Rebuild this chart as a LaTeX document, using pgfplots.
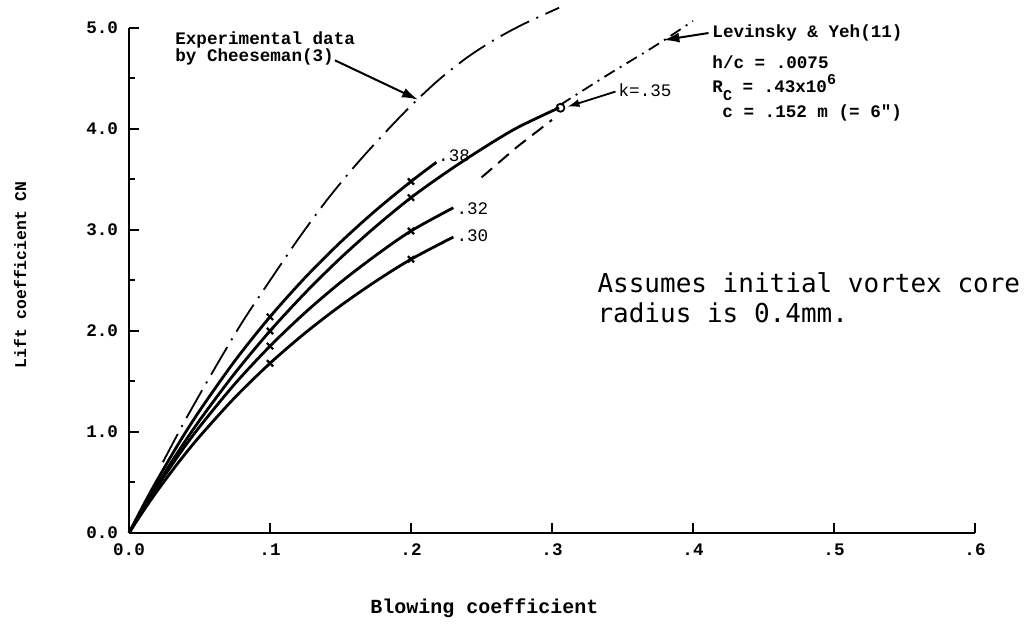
\documentclass[border=0pt]{standalone}
\usepackage{fontspec}
\setmainfont{Liberation Mono}
\newfontfamily\thinmono{DejaVu Sans Mono}
\usepackage{pgfplots}
\pgfplotsset{compat=1.18}
\usetikzlibrary{arrows.meta}

% curves: blowing coefficient vs lift coefficient
\pgfplotstableread{
x y
0.024 0.70
0.04 1.12
0.06 1.61
0.08 2.08
0.10 2.50
0.12 2.91
0.14 3.29
0.16 3.63
0.18 3.94
0.20 4.23
0.22 4.49
0.24 4.71
0.26 4.89
0.28 5.04
0.305 5.20
}\cheeseman

\newcommand\annfont{\fontsize{8.8}{10}\selectfont\bfseries}
\newcommand\lblfont{\fontsize{8.8}{10}\selectfont}

\begin{document}
\begin{tikzpicture}
\begin{axis}[
 scale only axis, width=423pt, height=252.5pt,
 xmin=0, xmax=0.6, ymin=0, ymax=5,
 axis lines*=left, axis line style={line width=1.3pt},
 tick align=inside, major tick length=5pt, minor tick length=3pt,
 tick style={line width=1pt,black},
 xtick={0,0.1,0.2,0.3,0.4,0.5,0.6},
 xticklabels={0.0,.1,.2,.3,.4,.5,.6},
 ytick={0,1,2,3,4,5},
 yticklabels={0.0,1.0,2.0,3.0,4.0,5.0},
 minor ytick={0.5,1.5,2.5,3.5,4.5},
 tick label style={font=\annfont},
 xticklabel style={yshift=-2pt},
 yticklabel style={xshift=-2pt},
 xlabel={Blowing coefficient},
 xlabel style={at={(rel axis cs:0.42,-0.1485)},anchor=center,font=\fontsize{10}{12}\selectfont\bfseries},
 ylabel={Lift coefficient CN},
 ylabel style={at={(rel axis cs:-0.1288,0.511)},anchor=center,font=\fontsize{8.2}{10}\selectfont\bfseries},
 clip=false,
]
% experimental data (Cheeseman)
\addplot[black, line width=0.9pt, smooth, dash pattern=on 16pt off 4pt on 1pt off 4pt] table {\cheeseman};

% computed curves, k = .38 .35 .32 .30
\addplot[black, line width=1.4pt, smooth] coordinates
 {(0,0) (0.01,0.270) (0.02,0.524) (0.035,0.881) (0.05,1.209) (0.075,1.703) (0.1,2.14)
  (0.125,2.530) (0.15,2.879) (0.175,3.194) (0.2,3.48) (0.218,3.67)};
\addplot[black, line width=1.4pt, smooth] coordinates
 {(0,0) (0.01,0.245) (0.02,0.478) (0.035,0.807) (0.05,1.114) (0.075,1.581) (0.1,2.0)
  (0.125,2.378) (0.15,2.722) (0.175,3.034) (0.2,3.32) (0.225,3.57) (0.25,3.80) (0.275,4.01) (0.305,4.21)};
\addplot[black, line width=1.4pt, smooth] coordinates
 {(0,0) (0.01,0.235) (0.02,0.457) (0.035,0.766) (0.05,1.050) (0.075,1.475) (0.1,1.85)
  (0.125,2.183) (0.15,2.481) (0.175,2.748) (0.2,2.99) (0.23,3.22)};
\addplot[black, line width=1.4pt, smooth] coordinates
 {(0,0) (0.01,0.214) (0.02,0.416) (0.035,0.697) (0.05,0.954) (0.075,1.340) (0.1,1.68)
  (0.125,1.981) (0.15,2.250) (0.175,2.492) (0.2,2.71) (0.23,2.93)};

% markers at .1 and .2
\addplot[only marks, mark=x, mark size=2.2pt, mark options={line width=1.1pt}] coordinates
 {(0.1,2.14) (0.1,2.0) (0.1,1.85) (0.1,1.68) (0.2,3.48) (0.2,3.32) (0.2,2.99) (0.2,2.71)};
\addplot[only marks, mark=o, mark size=2pt, mark options={line width=0.9pt}] coordinates {(0.306,4.21)};

% Levinsky & Yeh
\addplot[black, line width=1pt, dash pattern=on 7pt off 4pt] coordinates
 {(0.25,3.52) (0.275,3.82) (0.30,4.09)};
\addplot[black, line width=0.9pt, smooth, dash pattern=on 6pt off 3pt on 1pt off 3pt] coordinates
 {(0.306,4.24) (0.34,4.54) (0.374,4.83) (0.40,5.07)};

% annotations
\node[anchor=west, inner sep=0, font=\annfont] at (axis cs:0.0326,4.88) {Experimental data};
\node[anchor=west, inner sep=0, font=\annfont] at (axis cs:0.0326,4.71) {by Cheeseman(3)};
\draw[line width=1pt, -{Latex[length=8pt,width=5pt]}] (axis cs:0.146,4.68) -- (axis cs:0.205,4.29);

\node[anchor=west, inner sep=0, font=\annfont] at (axis cs:0.4135,4.95) {Levinsky \& Yeh(11)};
\node[anchor=west, inner sep=0, font=\annfont] at (axis cs:0.4135,4.66) {h/c = .0075};
\node[anchor=west, inner sep=0, font=\annfont] at (axis cs:0.4135,4.41) {R\raisebox{-4pt}{\fontsize{7.5}{8}\selectfont C} = .43x10\raisebox{4pt}{\fontsize{7.5}{8}\selectfont 6}};
\node[anchor=west, inner sep=0, font=\annfont] at (axis cs:0.4206,4.16) {c = .152 m (= 6\textquotedbl)};
\draw[line width=1pt, -{Latex[length=8pt,width=5pt]}] (axis cs:0.411,4.95) -- (axis cs:0.379,4.88);

\node[anchor=west, inner sep=0, font=\lblfont] at (axis cs:0.347,4.38) {k=.35};
\draw[line width=0.9pt, -{Latex[length=6pt,width=4pt]}] (axis cs:0.345,4.37) -- (axis cs:0.311,4.22);
\node[anchor=west, inner sep=0, font=\lblfont] at (axis cs:0.219,3.74) {.38};
\node[anchor=west, inner sep=0, font=\lblfont] at (axis cs:0.232,3.21) {.32};
\node[anchor=west, inner sep=0, font=\lblfont] at (axis cs:0.232,2.94) {.30};

\node[anchor=west, inner sep=0, align=left, font=\thinmono\fontsize{13}{15}\selectfont] at (axis cs:0.332,2.33)
 {Assumes initial vortex core\\radius is 0.4mm.};

% picture extent
\path (rel axis cs:-0.1525,-0.1703) rectangle (rel axis cs:1.0662,1.0554);
\end{axis}
\end{tikzpicture}
\end{document}
